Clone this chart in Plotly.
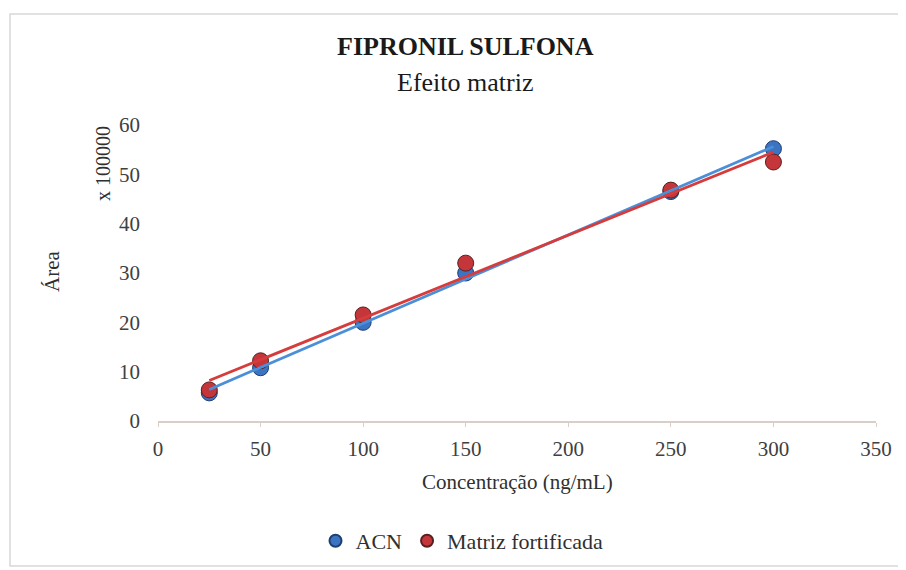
import numpy as np
import plotly.graph_objects as go

conc = [25, 50, 100, 150, 250, 300]
acn = [5.7, 10.8, 20.0, 30.0, 46.5, 55.2]
matriz = [6.3, 12.2, 21.5, 32.0, 46.8, 52.5]
x_ticks = [0, 50, 100, 150, 200, 250, 300, 350]
y_ticks = [0, 10, 20, 30, 40, 50, 60]

FONT = "Liberation Serif, Times New Roman, serif"
blue_m, blue_l = "#3c74c4", "#4a8fd8"
red_m, red_l = "#c5363b", "#d63c3c"

fig = go.Figure()

def fit(xs, ys):
    s, b = np.polyfit(xs, ys, 1)
    xx = [min(xs), max(xs)]
    return xx, [s * v + b for v in xx]

series = [("ACN", acn, blue_m, blue_l, "#1f3f70"), ("Matriz fortificada", matriz, red_m, red_l, "#5a2020")]

for name, ys, cm, cl, edge in series:
    fig.add_trace(go.Scatter(x=conc, y=ys, mode="markers", name=name,
                             marker=dict(size=16, color=cm, line=dict(color=edge, width=1))))

for name, ys, cm, cl, edge in series:
    xx, yy = fit(conc, ys)
    fig.add_trace(go.Scatter(x=xx, y=yy, mode="lines", showlegend=False,
                             line=dict(color=cl, width=2.8), hoverinfo="skip"))

# page has an 8px body offset; plot area target: x 158..876, y 125..421 (screen px)
OFF = 8
L, T = 158 - OFF, 125 - OFF
W, H = 718, 296
R = 906 - L - W
B = 570 - T - H

def px(xpix):
    return (xpix - 158) / W

def py(ypix):
    return (421 - ypix) / H

fig.update_layout(
    width=906, height=570,
    margin=dict(l=L, r=R, t=T, b=B),
    paper_bgcolor="white", plot_bgcolor="white",
    font=dict(family=FONT, size=21, color="#404040"),
    showlegend=True,
    legend=dict(orientation="h", x=px(462), xanchor="center", y=py(541), yanchor="middle",
                font=dict(size=22, color="#303030"), itemsizing="constant", itemwidth=30,
                tracegroupgap=0),
    xaxis=dict(range=[0, 350], tickvals=x_ticks, showgrid=False, zeroline=False,
               showline=True, linecolor="#d9cfc8", linewidth=1.5, ticks="outside",
               ticklen=4, tickcolor="#d9cfc8", tickwidth=1, ticklabelstandoff=4,
               tickfont=dict(size=21, color="#404040")),
    yaxis=dict(range=[0, 60], tickvals=y_ticks, showgrid=False, zeroline=False,
               showline=False, ticks="", ticklabelstandoff=17,
               tickfont=dict(size=21, color="#404040")),
    shapes=[dict(type="rect", xref="paper", yref="paper", x0=px(10), x1=px(903),
                 y0=py(566), y1=py(14), line=dict(color="#d8d8d8", width=1.5), layer="below")],
    annotations=[
        dict(text="<b>FIPRONIL SULFONA</b>", xref="paper", yref="paper", x=px(465), y=py(47),
             showarrow=False, font=dict(size=26, color="#1a1a1a", family=FONT), xanchor="center", yanchor="middle"),
        dict(text="Efeito matriz", xref="paper", yref="paper", x=px(465), y=py(82),
             showarrow=False, font=dict(size=26, color="#1a1a1a", family=FONT), xanchor="center", yanchor="middle"),
        dict(text="x 100000", xref="paper", yref="paper", x=px(103), y=py(164),
             textangle=-90, showarrow=False, font=dict(size=20, color="#303030", family=FONT),
             xanchor="center", yanchor="middle"),
        dict(text="Área", xref="paper", yref="paper", x=px(52), y=py(272),
             textangle=-90, showarrow=False, font=dict(size=21, color="#303030", family=FONT),
             xanchor="center", yanchor="middle"),
        dict(text="Concentração (ng/mL)", xref="paper", yref="paper", x=0.5, y=py(482),
             showarrow=False, font=dict(size=21, color="#303030", family=FONT),
             xanchor="center", yanchor="middle"),
    ],
)

fig.write_html("out.html")
